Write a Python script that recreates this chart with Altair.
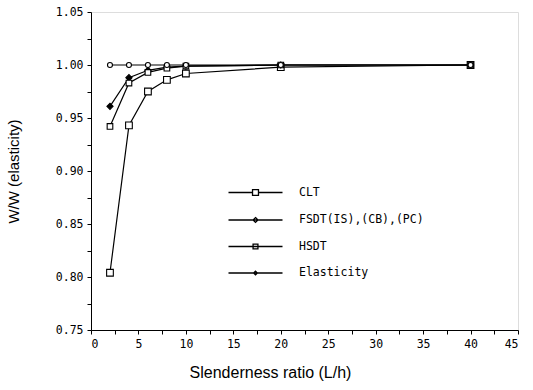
import altair as alt
import pandas as pd

ratios = [2, 4, 6, 8, 10, 20, 40]
clt = [0.804, 0.943, 0.975, 0.986, 0.992, 0.998, 1.000]
fsdt = [0.961, 0.988, 0.995, 0.998, 0.999, 1.000, 1.000]
hsdt = [0.942, 0.983, 0.993, 0.997, 0.999, 1.000, 1.000]
elasticity = [1.000, 1.000, 1.000, 1.000, 1.000, 1.000, 1.000]

series_names = ["CLT", "FSDT(IS),(CB),(PC)", "HSDT", "Elasticity"]
series_values = [clt, fsdt, hsdt, elasticity]

rows = []
for name, vals in zip(series_names, series_values):
    for r, v in zip(ratios, vals):
        rows.append({"L/h": r, "W": v, "series": name})
df = pd.DataFrame(rows)

mono = "DejaVu Sans Mono"
sans = "Liberation Sans"

x_scale = alt.Scale(domain=[0, 45], nice=False)
y_scale = alt.Scale(domain=[0.75, 1.05], nice=False, zero=False)

x_enc = alt.X(
    "L/h:Q", scale=x_scale,
    axis=alt.Axis(
        title="Slenderness ratio (L/h)",
        values=[i * 2.5 for i in range(19)],
        labelExpr="datum.value % 5 == 0 ? datum.label : ''",
        format="d", grid=False, tickSize=4, tickColor="black",
        domainColor="black", labelFont=mono, labelFontSize=11.5,
        labelColor="black", labelPadding=4, labelOverlap=False,
        titleFont=sans, titleFontSize=16, titleFontWeight="normal",
        titleColor="black", titleX=179, titleY=42, titleBaseline="middle",
    ),
)
y_enc = alt.Y(
    "W:Q", scale=y_scale,
    axis=alt.Axis(
        title="W/W (elasticity)",
        values=[0.75 + i * 0.025 for i in range(13)],
        labelExpr="abs((datum.value*100) % 5) < 0.01 || abs((datum.value*100) % 5 - 5) < 0.01 ? format(datum.value, '.2f') : ''",
        grid=False, tickSize=4, tickColor="black", domainColor="black",
        labelFont=mono, labelFontSize=11.5, labelColor="black",
        labelPadding=4, labelOverlap=False,
        titleFont=sans, titleFontSize=15, titleFontWeight="normal",
        titleColor="black", titleAngle=-90, titleX=-78, titleY=159,
        titleAlign="center", titleBaseline="middle",
    ),
)

base = alt.Chart(df)

lines = base.mark_line(color="black", strokeWidth=1.2).encode(
    x=x_enc, y=y_enc, detail="series:N", order="L/h:Q"
)

points = base.mark_point(stroke="black", strokeWidth=1.1, opacity=1, filled=False).encode(
    x=x_enc, y=y_enc,
    shape=alt.Shape("series:N", scale=alt.Scale(
        domain=series_names,
        range=["square", "diamond", "square", "circle"]), legend=None),
    fill=alt.Fill("series:N", scale=alt.Scale(
        domain=series_names,
        range=["white", "black", "white", "white"]), legend=None),
    size=alt.Size("series:N", scale=alt.Scale(
        domain=series_names, range=[45, 25, 30, 20]), legend=None),
)

legend_paths = [
    "M-2,0H-0.22M0.22,0H2M-0.22,-0.22H0.22V0.22H-0.22Z",
    "M-2,0H2M0,-0.18L0.18,0L0,0.18L-0.18,0Z",
    "M-2,0H2M-0.18,-0.18H0.18V0.18H-0.18Z",
    "M-2,0H2M0,-0.14L0.14,0L0,0.14L-0.14,0Z",
]

legend_layer = base.transform_filter("datum['L/h'] < 0").mark_point(
    color="black", filled=False, opacity=1
).encode(
    x=x_enc, y=y_enc,
    shape=alt.Shape("series:N", scale=alt.Scale(domain=series_names, range=legend_paths),
                    legend=alt.Legend(
                        title=None, orient="none", legendX=150, legendY=166,
                        symbolSize=729, symbolStrokeWidth=1.3,
                        symbolStrokeColor="black", symbolFillColor="white",
                        symbolOpacity=1,
                        labelFont=mono, labelFontSize=11.5, labelColor="black",
                        labelOffset=29, rowPadding=6.5, labelLimit=300,
                    )),
)

chart = alt.layer(lines, points, legend_layer).resolve_scale(
    shape="independent"
).properties(
    width=427, height=318,
    autosize=alt.AutoSizeParams(type="none"),
    padding={"left": 91, "top": 12, "right": 15, "bottom": 60},
).configure_view(stroke="black", strokeWidth=1.2).configure(background="white")

chart.save("out.html", embed_options={"renderer": "svg", "actions": False})
